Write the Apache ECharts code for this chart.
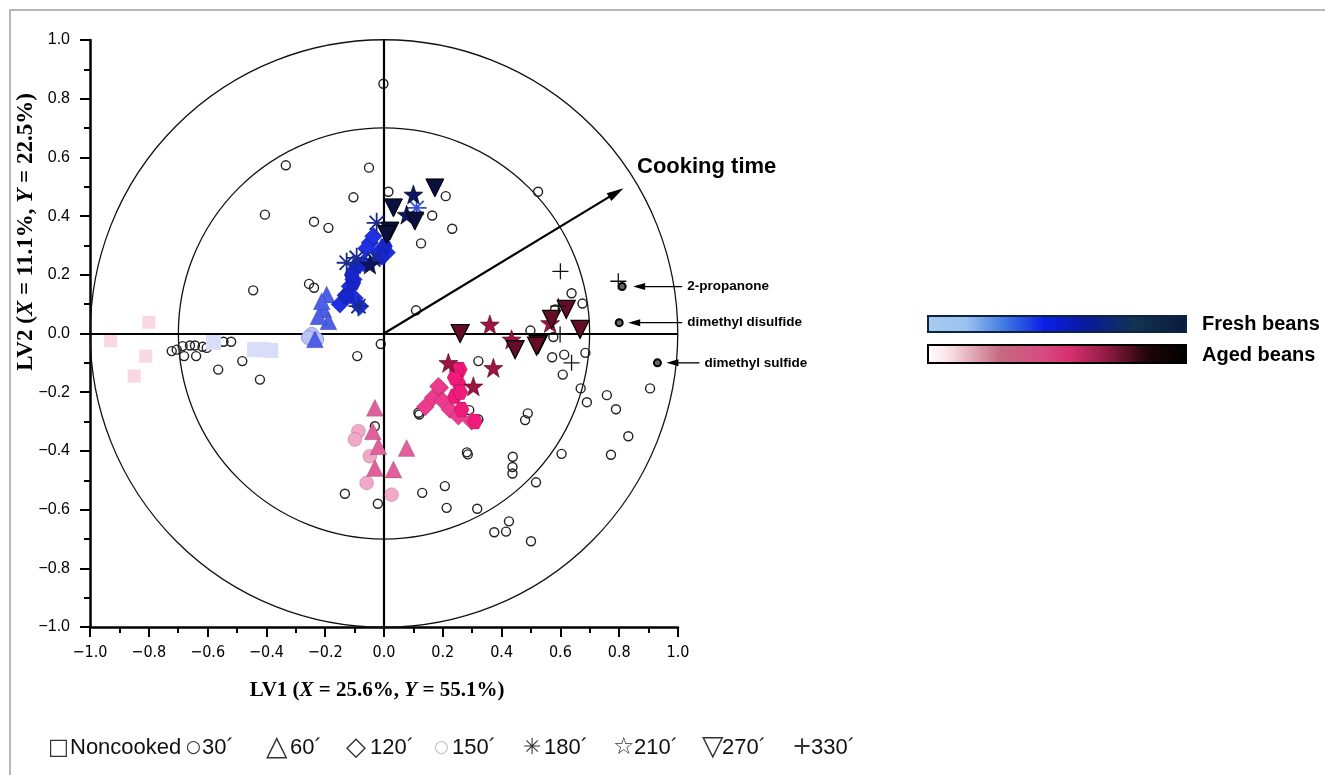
<!DOCTYPE html>
<html><head><meta charset="utf-8">
<script src="https://cdn.jsdelivr.net/npm/echarts@6/dist/echarts.min.js"></script>
<style>html,body{margin:0;padding:0;background:#fff}#c{width:1325px;height:775px}</style>
</head><body><div id="c"></div>
<script>
// ---------------- data ----------------
const circleRadii = [1.0, 0.7];
const cookingArrow = [[0, 0], [0.79, 0.48]];

const variables = [
 [-0.002,0.851],[-0.334,0.573],[-0.051,0.565],[0.015,0.483],[-0.104,0.464],[-0.405,0.405],[-0.238,0.381],
 [-0.189,0.36],[-0.445,0.147],[-0.255,0.169],[-0.238,0.156],[0.21,0.468],[0.164,0.402],[0.232,0.357],
 [0.126,0.307],[0.524,0.483],[0.109,0.079],[0.638,0.137],[0.675,0.102],[0.498,0.01],[0.576,-0.012],
 [0.582,0.082],[0.321,-0.094],[0.572,-0.081],[0.613,-0.072],[0.685,-0.066],[0.608,-0.14],[0.669,-0.187],
 [0.69,-0.234],[0.758,-0.21],[0.789,-0.258],[0.905,-0.187],[0.831,-0.35],[0.772,-0.413],[0.604,-0.41],
 [0.489,-0.272],[0.48,-0.295],[0.285,-0.412],[0.282,-0.405],[0.438,-0.42],[0.437,-0.455],[0.437,-0.477],
 [0.517,-0.507],[0.13,-0.543],[0.207,-0.52],[0.213,-0.594],[0.317,-0.597],[0.425,-0.64],[0.375,-0.677],
 [0.415,-0.675],[0.5,-0.708],[0.29,-0.261],[0.12,-0.276],[-0.011,-0.036],[-0.722,-0.06],[-0.705,-0.055],
 [-0.685,-0.043],[-0.66,-0.041],[-0.643,-0.041],[-0.617,-0.045],[-0.603,-0.049],[-0.68,-0.077],
 [-0.639,-0.077],[-0.52,-0.028],[-0.546,-0.028],[-0.482,-0.094],[-0.564,-0.123],[-0.422,-0.157],
 [-0.091,-0.077],[-0.133,-0.546],[-0.021,-0.58],[-0.031,-0.316],[0.321,-0.293],[0.117,-0.27]
];
const highlighted = [[0.81,0.16],[0.80,0.037],[0.93,-0.10]];
const highlightNames = ['2-propanone','dimethyl disulfide','dimethyl sulfide'];

// Fresh beans
const freshNoncooked = [[-0.44,-0.055],[-0.412,-0.055],[-0.385,-0.058],[-0.58,-0.03]];
const fresh30 = [[-0.246,-0.003],[-0.229,-0.02],[-0.257,-0.014]];
const fresh60 = [[-0.235,-0.02],[-0.195,0.133],[-0.206,0.082],[-0.189,0.042],[-0.223,0.059],[-0.212,0.11]];
const fresh120 = [[-0.15,0.10],[-0.13,0.13],[-0.116,0.161],[-0.104,0.184],[-0.082,0.093],[-0.10,0.12],
 [-0.048,0.309],[-0.036,0.331],[-0.019,0.275],[0.009,0.276],[-0.06,0.29],[-0.07,0.24]];
const fresh150 = [[-0.093,0.229],[-0.127,0.127],[-0.104,0.173],[0.003,0.297],[-0.01,0.26],[-0.11,0.20]];
const fresh180 = [[-0.127,0.241],[-0.093,0.258],[-0.025,0.377],[-0.087,0.093],[-0.036,0.252]];
const fresh180b = [[0.111,0.428]];
const fresh210 = [[0.10,0.474],[0.077,0.405],[-0.048,0.235]];
const fresh270 = [[0.173,0.496],[0.032,0.428],[0.105,0.383],[0.02,0.349],[0.009,0.337]];

// Aged beans
const agedNoncooked = [[-0.80,0.038],[-0.81,-0.077],[-0.85,-0.145],[-0.93,-0.025]];
const aged30 = [[-0.087,-0.333],[-0.099,-0.361],[-0.048,-0.418],[-0.059,-0.509],[0.026,-0.549]];
const aged60 = [[-0.031,-0.253],[-0.038,-0.333],[-0.019,-0.384],[0.077,-0.39],[-0.031,-0.458],[0.032,-0.463]];
const aged120 = [[0.14,-0.25],[0.167,-0.218],[0.19,-0.185],[0.20,-0.23],[0.224,-0.259],[0.253,-0.282],[0.298,-0.299],[0.185,-0.18]];
const aged150 = [[0.258,-0.123],[0.253,-0.168],[0.241,-0.214],[0.264,-0.259],[0.247,-0.128],[0.26,-0.20],[0.31,-0.30],[0.24,-0.15]];
const aged210 = [[0.36,0.031],[0.434,-0.02],[0.219,-0.10],[0.372,-0.117],[0.304,-0.18],[0.565,0.036]];
const aged270 = [[0.259,0.0],[0.446,-0.055],[0.525,-0.037],[0.57,0.048],[0.62,0.082],[0.667,0.014],[0.519,-0.043]];
const aged330 = [[0.60,0.212],[0.593,0.093],[0.599,-0.003],[0.638,-0.10],[0.797,0.178]];

const legendSymbols = ['□','○','△','◇','○','✳','☆','▽','+'];
const legendLabels = ['Noncooked','30´','60´','120´','150´','180´','210´','270´','330´'];

// ---------------- styles / layout ----------------
const STAR = 'path://M10,0 L12.35,6.76 L19.51,6.91 L13.8,11.24 L15.88,18.09 L10,14 L4.12,18.09 L6.2,11.24 L0.49,6.91 L7.65,6.76 Z';
const ASTER = 'path://M0,9.1 L20,9.1 L20,10.9 L0,10.9 Z M9.1,0 L10.9,0 L10.9,20 L9.1,20 Z M2.3,3.6 L3.6,2.3 L17.7,16.4 L16.4,17.7 Z M16.4,2.3 L17.7,3.6 L3.6,17.7 L2.3,16.4 Z';
const PLUS = 'path://M9.2,0 L10.8,0 L10.8,9.2 L20,9.2 L20,10.8 L10.8,10.8 L10.8,20 L9.2,20 L9.2,10.8 L0,10.8 L0,9.2 L9.2,9.2 Z';
const HEX = 'path://M5,0 L15,0 L20,8.66 L15,17.32 L5,17.32 L0,8.66 Z';

const GRID = {left:90, top:40, width:588, height:587};
const fmt = v => { const r = Math.round(v*10)/10; return (r < 0 ? '\u2212' : '') + Math.abs(r).toFixed(1); };

function sc(name, data, symbol, size, color, opts) {
  opts = opts || {};
  const itemStyle = Object.assign({color:color, borderColor:'rgba(0,0,0,0.25)', borderWidth:0.6, opacity:1}, opts.itemStyle || {});
  const s = {type:'scatter', name, data, symbol, symbolSize:size, clip:false, silent:true, itemStyle};
  if (opts.z !== undefined) s.z = opts.z;
  if (opts.symbolRotate !== undefined) s.symbolRotate = opts.symbolRotate;
  return s;
}

const chart = echarts.init(document.getElementById('c'), null, {renderer:'canvas'});
const axisCommon = {
  type:'value', min:-1, max:1, interval:0.2,
  axisLine:{onZero:false, lineStyle:{color:'#000', width:2.5}},
  axisTick:{length:10, lineStyle:{color:'#000', width:2}},
  minorTick:{show:true, splitNumber:2, length:6, lineStyle:{color:'#000', width:2}},
  splitLine:{show:false}, minorSplitLine:{show:false}
};

chart.setOption({
  animation:false,
  backgroundColor:'#fff',
  grid:GRID,
  xAxis:Object.assign({}, axisCommon, {
    axisLabel:{margin:18, color:'#000', fontSize:16, fontFamily:"'Liberation Sans Narrow','DejaVu Sans Condensed','Liberation Sans',sans-serif", formatter:fmt}
  }),
  yAxis:Object.assign({}, axisCommon, {
    axisLabel:{margin:20, color:'#000', fontSize:16, fontFamily:"'Liberation Sans',sans-serif", formatter:fmt}
  }),
  series:[
    {
      type:'custom', silent:true, clip:false, z:1,
      data: circleRadii.map(r => [0, 0, r]),
      encode:{x:0, y:1},
      renderItem:(params, api) => {
        const c = api.coord([api.value(0), api.value(1)]);
        const r = api.value(2);
        const s = api.size([r, r]);
        return {type:'circle', shape:{cx:c[0], cy:c[1], r:(s[0]+s[1])/2},
                style:{fill:'none', stroke:'#111', lineWidth:1.3}};
      }
    },
    {
      type:'scatter', data:[], silent:true, z:2,
      markLine:{silent:true, symbol:'none', animation:false, label:{show:false},
        lineStyle:{color:'#000', width:2.2, type:'solid'},
        data:[{xAxis:0},{yAxis:0}]}
    },
    {
      type:'scatter', data:[], silent:true, z:3,
      markLine:{silent:true, symbol:['none','triangle'], symbolSize:[9,17], animation:false, label:{show:false},
        lineStyle:{color:'#000', width:2.2, type:'solid'},
        data:[[{coord:cookingArrow[0]},{coord:cookingArrow[1]}]]}
    },
    sc('vars', variables, 'circle', 9, 'rgba(0,0,0,0)', {itemStyle:{borderColor:'#222', borderWidth:1.4}, z:3}),
    sc('hl', highlighted, 'circle', 7, '#666', {itemStyle:{borderColor:'#000', borderWidth:2}, z:3}),

    sc('fnc', freshNoncooked, 'rect', 15, '#d9ddf8', {itemStyle:{borderWidth:0}, z:4}),
    sc('anc', agedNoncooked, 'rect', 13, '#f9d8e4', {itemStyle:{borderWidth:0}, z:4}),
    sc('f30', fresh30, 'circle', 14, '#bcc3f3', {itemStyle:{borderColor:'#8f9bea', borderWidth:1}, z:5}),
    sc('a30', aged30, 'circle', 14, '#f2a8c9', {z:5}),
    sc('f60', fresh60, 'triangle', 17, '#4c5fe6', {z:6}),
    sc('a60', aged60, 'triangle', 17, '#e0609c', {z:6}),
    sc('f120', fresh120, 'diamond', 18, '#1f2fe2', {z:7}),
    sc('a120', aged120, 'diamond', 18, '#ec3a8c', {z:7}),
    sc('f150', fresh150, HEX, 15, '#1626cc', {z:8}),
    sc('a150', aged150, HEX, 15, '#f01a7a', {z:8}),
    sc('f180', fresh180, ASTER, 20, '#1b2a8e', {itemStyle:{borderWidth:0}, z:9}),
    sc('f180b', fresh180b, ASTER, 20, '#3a52d8', {itemStyle:{borderWidth:0}, z:9}),
    sc('f210', fresh210, STAR, 19, '#0c1660', {itemStyle:{borderColor:'#000', borderWidth:0.6}, z:10}),
    sc('a210', aged210, STAR, 19, '#9e1444', {itemStyle:{borderColor:'#4a0015', borderWidth:0.6}, z:10}),
    sc('f270', fresh270, 'triangle', 18, '#0a0f3e', {symbolRotate:180, itemStyle:{borderColor:'#000', borderWidth:1}, z:11}),
    sc('a270', aged270, 'triangle', 18, '#640c28', {symbolRotate:180, itemStyle:{borderColor:'#000', borderWidth:1.2}, z:11}),
    sc('a330', aged330, PLUS, 16, '#111', {itemStyle:{borderWidth:0}, z:12})
  ]
});

// ---------------- graphics (annotations, colour bars, titles, legend) ----------------
const G = [];
G.push({type:'rect', silent:true, z:0, shape:{x:10, y:10, width:1330, height:790},
        style:{fill:'none', stroke:'#a0a0a0', lineWidth:1.5}});

// annotation arrows for highlighted variables
const annGap = [11, 9, 9], annLen = [49, 54, 33];
highlighted.forEach((p, i) => {
  const px = chart.convertToPixel({gridIndex:0}, p);
  const tip = px[0] + annGap[i], y = px[1], end = tip + annLen[i];
  G.push({type:'line', silent:true, shape:{x1:tip+8, y1:y, x2:end, y2:y}, style:{stroke:'#000', lineWidth:1.3}});
  G.push({type:'polygon', silent:true, shape:{points:[[tip,y],[tip+12,y-3.5],[tip+12,y+3.5]]}, style:{fill:'#000'}});
  G.push({type:'text', silent:true, x:end+5, y:y, style:{text:highlightNames[i], fill:'#000',
          font:"bold 13.5px 'Liberation Sans',Arial,sans-serif", textAlign:'left', textVerticalAlign:'middle'}});
});

G.push({type:'text', silent:true, x:637, y:167, style:{text:'Cooking time', fill:'#000',
        font:"bold 22px 'Liberation Sans',Arial,sans-serif", textAlign:'left', textVerticalAlign:'middle'}});

// colour bars
G.push({type:'rect', silent:true, shape:{x:928, y:316, width:258, height:16},
  style:{stroke:'#0b2345', lineWidth:2, fill:new echarts.graphic.LinearGradient(0,0,1,0,[
    {offset:0,color:'#a8ccef'},{offset:0.15,color:'#9cc3ee'},{offset:0.3,color:'#3f78e2'},
    {offset:0.45,color:'#0a1ee6'},{offset:0.62,color:'#0a1a9a'},{offset:0.8,color:'#12344f'},{offset:1,color:'#0a1a3c'}])}});
G.push({type:'rect', silent:true, shape:{x:928, y:345, width:258, height:18},
  style:{stroke:'#000', lineWidth:2, fill:new echarts.graphic.LinearGradient(0,0,1,0,[
    {offset:0,color:'#ffffff'},{offset:0.08,color:'#fbe3e8'},{offset:0.28,color:'#c66a82'},
    {offset:0.45,color:'#d64a80'},{offset:0.55,color:'#d8306e'},{offset:0.7,color:'#8a1a40'},
    {offset:0.85,color:'#1e0508'},{offset:1,color:'#000000'}])}});
G.push({type:'text', silent:true, x:1202, y:324, style:{text:'Fresh beans', fill:'#000',
        font:"bold 20px 'Liberation Sans',Arial,sans-serif", textAlign:'left', textVerticalAlign:'middle'}});
G.push({type:'text', silent:true, x:1202, y:355, style:{text:'Aged beans', fill:'#000',
        font:"bold 20px 'Liberation Sans',Arial,sans-serif", textAlign:'left', textVerticalAlign:'middle'}});

// axis titles
const serif = "'Liberation Serif','Times New Roman',serif";
G.push({type:'text', silent:true, x:377, y:691, style:{
  text:'{b|LV1 (}{i|X}{b| = 25.6%, }{i|Y}{b| = 55.1%)}', textAlign:'center', textVerticalAlign:'middle',
  rich:{b:{font:"bold 21px "+serif, fill:'#000'}, i:{font:"italic bold 21px "+serif, fill:'#000'}}}});
G.push({type:'text', silent:true, x:26, y:232, rotation:Math.PI/2, style:{
  text:'{b|LV2 (}{i|X}{b| = 11.1%, }{i|Y}{b| = 22.5%)}', textAlign:'center', textVerticalAlign:'middle',
  rich:{b:{font:"bold 23px "+serif, fill:'#000'}, i:{font:"italic bold 23px "+serif, fill:'#000'}}}});

// bottom symbol legend
const symX = [48, 186, 266, 346, 434, 523, 613, 702, 792];
const symSize = [22, 17, 28, 26, 17, 22, 24, 28, 24];
const labX = [70, 202, 290, 370, 452, 544, 634, 722, 811];
const legendSymColor = ['#333','#333','#333','#333','#c4c4c4','#333','#333','#333','#333'];
legendLabels.forEach((t, i) => {
  G.push({type:'text', silent:true, x:symX[i], y:748, style:{text:legendSymbols[i], fill:legendSymColor[i],
          font:symSize[i]+"px 'DejaVu Sans',sans-serif", textAlign:'left', textVerticalAlign:'middle'}});
  G.push({type:'text', silent:true, x:labX[i], y:748, style:{text:t, fill:'#111',
          font:"22px 'Liberation Sans',Arial,sans-serif", textAlign:'left', textVerticalAlign:'middle'}});
});

chart.setOption({graphic:G});
</script></body></html>
